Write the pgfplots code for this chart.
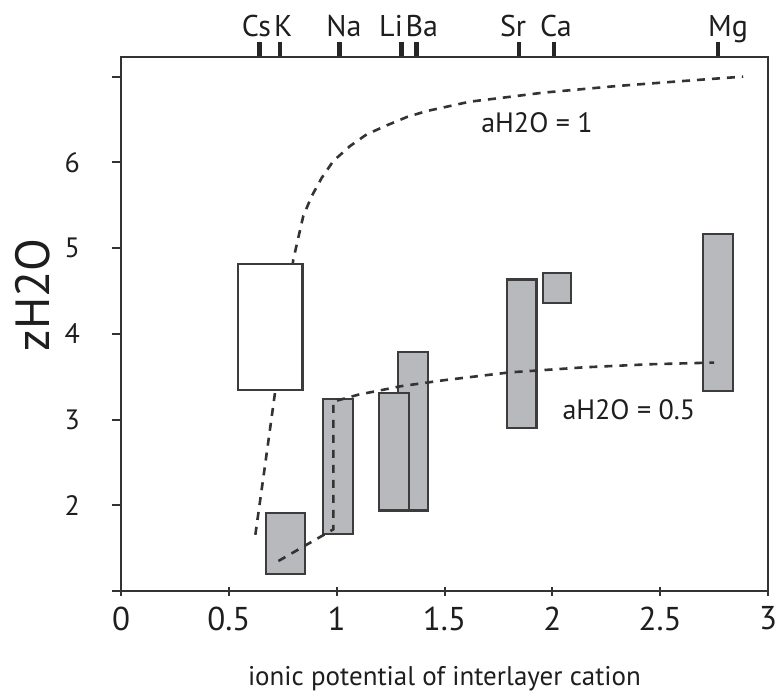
\documentclass[border=0pt]{standalone}
\usepackage{fontspec}
\setmainfont{PT Sans}
\usepackage{pgfplots}
\pgfplotsset{compat=1.18}
\definecolor{boxgray}{RGB}{184,185,188}
\definecolor{edgec}{RGB}{60,60,60}
\definecolor{txt}{RGB}{30,30,30}
\begin{document}
\begin{tikzpicture}
\path[use as bounding box] (-60.5pt,-52.5pt) rectangle (330.5pt,295.5pt);
\begin{axis}[
  at={(0,0)}, anchor=south west,
  scale only axis, width=323.5pt, height=267pt,
  xmin=0, xmax=3, ymin=1, ymax=7.23,
  clip=false,
  axis line style={line width=1.2pt, black!80},
  xtick={0,0.5,1,1.5,2,2.5,3},
  xticklabels={0,0.5,1,1.5,2,2.5,3},
  ytick={1,2,3,4,5,6,7},
  yticklabels={,2,3,4,5,6,},
  tick pos=left,
  xtick align=center, ytick align=outside,
  major tick length=4.5pt,
  tick style={line width=1pt, black!80},
  /pgf/number format/assume math mode=true,
  xticklabel style={font=\fontsize{16.5}{16.5}\selectfont, text=txt, yshift=-2pt},
  yticklabel style={font=\fontsize{14}{14}\selectfont, text=txt, xshift=-12.5pt},
]
% aH2O = 1 curve (under the open box)
\addplot[dash pattern=on 4pt off 3.5pt, line width=1.3pt, black!80] coordinates {
 (0.623,1.656) (0.667,2.45) (0.711,3.256) (0.755,4.06) (0.799,4.867)
 (0.845,5.373) (0.884,5.606) (0.931,5.821) (0.984,6.015) (1.062,6.191)
 (1.139,6.327) (1.232,6.432) (1.325,6.529) (1.417,6.599) (1.525,6.658)
 (1.618,6.709) (1.773,6.756) (1.958,6.814) (2.298,6.891) (2.607,6.950) (2.885,7.001)};
% open box
\addplot[draw=edgec, line width=1.1pt, fill=white] coordinates {(0.541,3.341) (0.842,3.341) (0.842,4.817) (0.541,4.817)} -- cycle;
% grey boxes
\addplot[draw=edgec, line width=1.1pt, fill=boxgray] coordinates {(0.672,1.199) (0.855,1.199) (0.855,1.913) (0.672,1.913)} -- cycle;
\addplot[draw=edgec, line width=1.1pt, fill=boxgray] coordinates {(0.938,1.663) (1.077,1.663) (1.077,3.244) (0.938,3.244)} -- cycle;
\addplot[draw=edgec, line width=1.1pt, fill=boxgray] coordinates {(1.283,1.94) (1.422,1.94) (1.422,3.79) (1.283,3.79)} -- cycle;
\addplot[draw=edgec, line width=1.1pt, fill=boxgray] coordinates {(1.195,1.94) (1.334,1.94) (1.334,3.306) (1.195,3.306)} -- cycle;
\addplot[draw=edgec, line width=1.1pt, fill=boxgray] coordinates {(1.791,2.897) (1.927,2.897) (1.927,4.633) (1.791,4.633)} -- cycle;
\addplot[draw=edgec, line width=1.1pt, fill=boxgray] coordinates {(1.958,4.356) (2.088,4.356) (2.088,4.707) (1.958,4.707)} -- cycle;
\addplot[draw=edgec, line width=1.1pt, fill=boxgray] coordinates {(2.697,3.334) (2.836,3.334) (2.836,5.168) (2.697,5.168)} -- cycle;
% aH2O = 0.5 curve
\addplot[dash pattern=on 4pt off 3.5pt, line width=1.3pt, black!80] coordinates {
 (0.73,1.35) (0.985,1.72) (0.985,3.21) (1.1,3.29) (1.2,3.34) (1.3,3.39)
 (1.5,3.46) (1.8,3.55) (2.15,3.61) (2.45,3.645) (2.75,3.665)};
% annotations
\node[font=\fontsize{14}{14}\selectfont, text=txt] at (axis cs:1.929,6.463) {aH2O = 1};
\node[font=\fontsize{14}{14}\selectfont, text=txt] at (axis cs:2.355,3.113) {aH2O = 0.5};
% cation labels
\foreach \xx/\lab in {0.628/Cs,0.752/K,1.034/Na,1.252/Li,1.395/Ba,1.818/Sr,2.017/Ca,2.815/Mg}{
  \edef\tmp{\noexpand\node[anchor=base, yshift=10pt, font=\noexpand\fontsize{15}{15}\noexpand\selectfont, text=txt] at (axis cs:\xx,7.23) {\lab};}
  \tmp
}
% axis labels
\node[anchor=base, yshift=-47pt, font=\fontsize{13.5}{13.5}\selectfont, text=txt] at (axis cs:1.5,1) {ionic potential of interlayer cation};
\node[rotate=90, font=\fontsize{24}{24}\selectfont, text=txt] at ([xshift=-44pt]axis cs:0,4.455) {zH2O};
\end{axis}
\begin{axis}[
  at={(0,0)}, anchor=south west,
  scale only axis, width=323.5pt, height=267pt,
  xmin=0, xmax=3, ymin=1, ymax=7.23,
  axis x line*=top, axis y line=none,
  axis line style={line width=1.2pt, black!80},
  xtick={0.642,0.737,1.012,1.30,1.369,1.846,2.008,2.768},
  xticklabels={},
  xtick align=outside,
  major tick length=7.5pt,
  x tick style={line width=2.3pt, black!85},
]
\end{axis}
\end{tikzpicture}
\end{document}
